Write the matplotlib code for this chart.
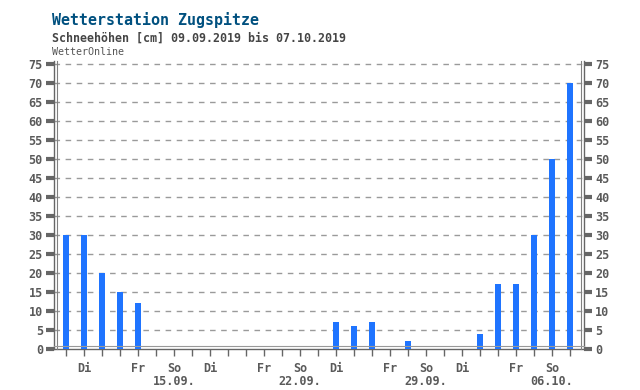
import matplotlib
matplotlib.use("Agg")
import matplotlib.pyplot as plt
from matplotlib.lines import Line2D
import matplotlib.transforms as mtrans

days = ["09.09.", "10.09.", "11.09.", "12.09.", "13.09.", "14.09.", "15.09.",
        "16.09.", "17.09.", "18.09.", "19.09.", "20.09.", "21.09.", "22.09.",
        "23.09.", "24.09.", "25.09.", "26.09.", "27.09.", "28.09.", "29.09.",
        "30.09.", "01.10.", "02.10.", "03.10.", "04.10.", "05.10.", "06.10.",
        "07.10."]
snow = [30, 30, 20, 15, 12, 0, 0, 0, 0, 0, 0, 0, 0, 0, 0,
        7, 6, 7, 0, 2, 0, 0, 0, 4, 17, 17, 30, 50, 70]
weekday = ["Mo", "Di", "Mi", "Do", "Fr", "Sa", "So"]
shown_days = {"Di", "Fr", "So"}
yticks = list(range(0, 80, 5))

font = "DejaVu Sans Mono"
grey_txt = "#5a5a5a"
frame = "#666666"

fig = plt.figure(figsize=(6.4, 3.9), dpi=100)
ax = fig.add_axes([54/640, 41/390, 530/640, 288/390])

x = list(range(len(days)))
ax.bar(x, snow, width=0.36, color="#1f74ff", zorder=3)

ax.set_xlim(-0.67, 28.78)
ax.set_ylim(0, 75.8)

# grid
for v in yticks[1:]:
    ax.axhline(v, color="#9a9a9a", lw=1, ls=(0, (4, 4)), zorder=1)

# x ticks
labels = []
sundays = []
for i, d in enumerate(days):
    wd = weekday[i % 7]
    if wd == "So":
        labels.append("So\n" + d)
        sundays.append(i)
    elif wd in shown_days:
        labels.append(wd)
    else:
        labels.append("")
ax.set_xticks(x)
ax.set_xticklabels(labels, fontfamily=font, fontweight="bold", fontsize=8.5,
                   color=grey_txt, linespacing=1.05, va="top")
ax.tick_params(axis="x", which="major", length=5, width=1, color=frame, pad=4)
ax.set_xticks(sundays, minor=True)
ax.tick_params(axis="x", which="minor", length=7, width=3, color=frame)

# y ticks both sides
ax.set_yticks(yticks)
ax.set_yticklabels([str(v) for v in yticks], fontfamily=font, fontweight="bold",
                   fontsize=8.5, color=grey_txt)
ax.tick_params(axis="y", which="major", left=True, right=True, labelleft=True,
               labelright=True, length=6, width=3, color=frame, pad=2)

# frame: outer lines + inner lighter lines
for s in ["left", "bottom", "right"]:
    ax.spines[s].set_color(frame)
    ax.spines[s].set_linewidth(1.0)
ax.spines["top"].set_visible(False)

off_l = mtrans.offset_copy(ax.transAxes, fig=fig, x=3, y=0, units="dots")
off_r = mtrans.offset_copy(ax.transAxes, fig=fig, x=-3, y=0, units="dots")
off_b = mtrans.offset_copy(ax.transAxes, fig=fig, x=0, y=3, units="dots")
ax.add_line(Line2D([0, 0], [0, 1], transform=off_l, color="#808080", lw=0.8,
                   clip_on=False, zorder=4))
ax.add_line(Line2D([1, 1], [0, 1], transform=off_r, color="#808080", lw=0.8,
                   clip_on=False, zorder=4))
ax.add_line(Line2D([0, 1], [0, 0], transform=off_b, color="#999999", lw=0.8,
                   clip_on=False, zorder=4))

fig.text(52/640, 1 - 20/390, "Wetterstation Zugspitze", fontfamily=font,
         fontweight="bold", fontsize=10.8, color="#00507f", va="center")
fig.text(52/640, 1 - 38/390, "Schneehöhen [cm] 09.09.2019 bis 07.10.2019",
         fontfamily=font, fontweight="bold", fontsize=8.4, color="#454545",
         va="center")
fig.text(52/640, 1 - 52/390, "WetterOnline", fontfamily=font, fontsize=7.2,
         color="#555555", va="center")

fig.savefig("out.png", dpi=100)
